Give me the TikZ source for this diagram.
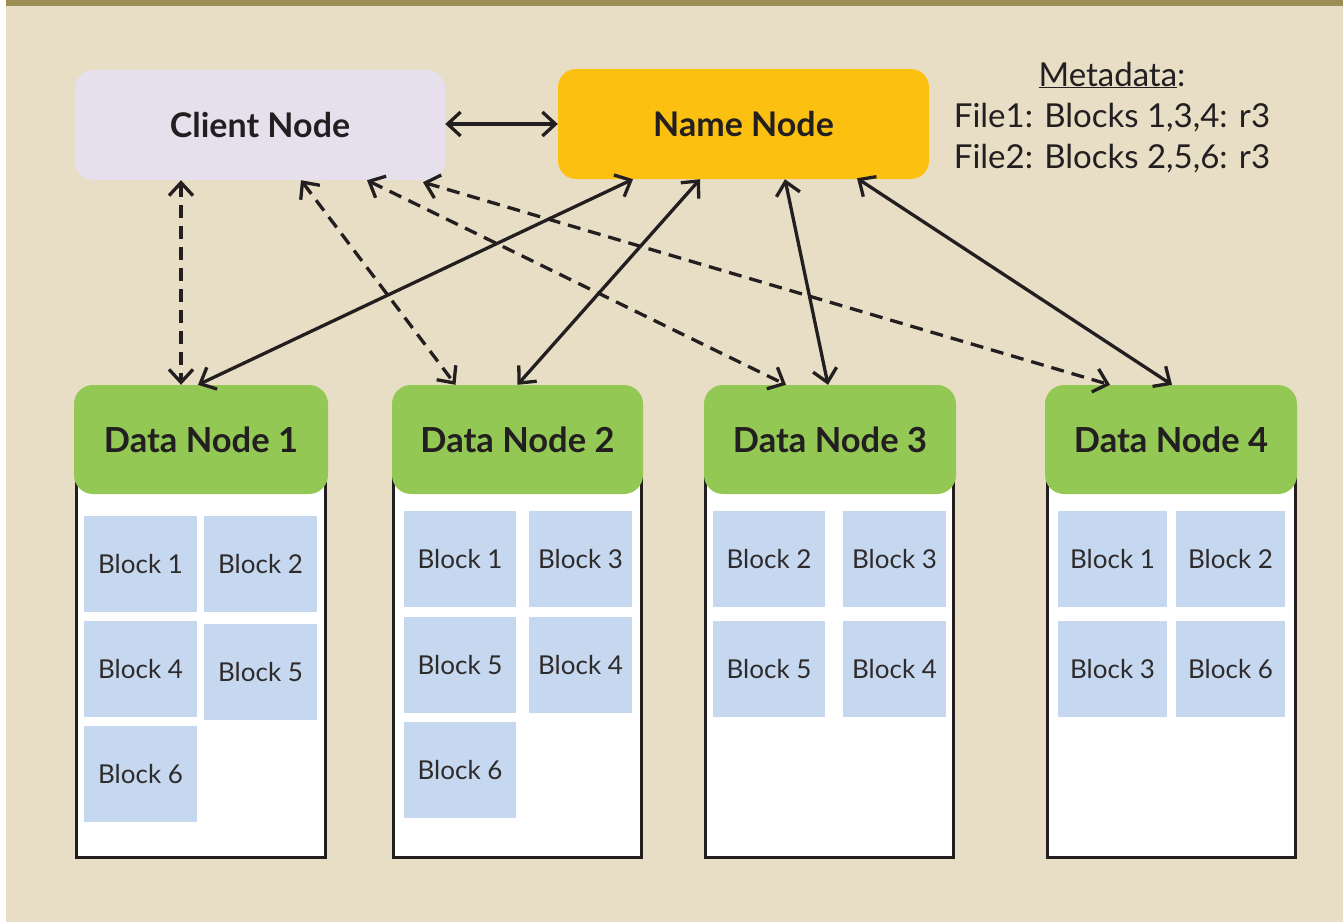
\documentclass[tikz,border=0pt]{standalone}
\usepackage{fontspec}
\setmainfont{Lato}
\usetikzlibrary{arrows.meta}
\definecolor{olivebar}{HTML}{9C8D55}
\definecolor{beige}{HTML}{E8DEC6}
\definecolor{lavender}{HTML}{E5E0EC}
\definecolor{gold}{HTML}{FCC011}
\definecolor{leaf}{HTML}{92C853}
\definecolor{blockblue}{HTML}{C6D8EF}
\definecolor{ink}{HTML}{231F20}
\definecolor{blocktext}{HTML}{2E2B2C}
\tikzset{
  topbox/.style={rounded corners=18pt, inner sep=0pt, minimum width=371pt, minimum height=110pt,
    font=\fontsize{34}{38}\selectfont\bfseries, text=ink},
  header/.style={fill=leaf, rounded corners=19pt, inner sep=0pt, minimum height=109pt,
    font=\fontsize{34.5}{38}\selectfont\bfseries, text=ink},
  databox/.style={draw=ink, line width=3pt, fill=white, inner sep=0pt},
  blockbox/.style={fill=blockblue, inner sep=0pt, minimum height=96pt,
    font=\fontsize{26}{30}\selectfont, text=blocktext},
  metatext/.style={anchor=base, inner sep=0pt, font=\fontsize{33}{38}\selectfont, text=ink},
  link/.style={draw=ink, line width=3.3pt, {Straight Barb[length=13pt,width=24pt]}-{Straight Barb[length=13pt,width=24pt]}},
  dlink/.style={link, dash pattern=on 13pt off 8pt}
}
\begin{document}
\begin{tikzpicture}[x=1pt,y=-1pt]
\useasboundingbox (0,0) rectangle (1343,922);
\fill[white] (0,0) rectangle (1343,922);
\fill[beige] (6,5) rectangle (1343,922);
\fill[olivebar] (6,0) rectangle (1343,5.5);

% data node boxes
\node[databox, minimum width=249pt, minimum height=387.5pt] (box1) at (201,663.75) {};
\node[databox, minimum width=248pt, minimum height=387.5pt] (box2) at (517.5,663.75) {};
\node[databox, minimum width=248pt, minimum height=387.5pt] (box3) at (829.5,663.75) {};
\node[databox, minimum width=248pt, minimum height=387.5pt] (box4) at (1171.5,663.75) {};

% headers
\node[header, minimum width=254pt] (dn1) at (201,439.5) {Data Node 1};
\node[header, minimum width=251pt] (dn2) at (517.5,439.5) {Data Node 2};
\node[header, minimum width=252pt] (dn3) at (830,439.5) {Data Node 3};
\node[header, minimum width=252pt] (dn4) at (1171,439.5) {Data Node 4};

% blocks DN1
\node[blockbox, minimum width=113pt] (a1) at (140.5,564) {Block 1};
\node[blockbox, minimum width=113pt] (a2) at (260.5,564) {Block 2};
\node[blockbox, minimum width=113pt] (a4) at (140.5,669) {Block 4};
\node[blockbox, minimum width=113pt] (a5) at (260.5,672) {Block 5};
\node[blockbox, minimum width=113pt] (a6) at (140.5,774) {Block 6};
% blocks DN2
\node[blockbox, minimum width=112pt] (b1) at (460,559) {Block 1};
\node[blockbox, minimum width=103pt] (b3) at (580.5,559) {Block 3};
\node[blockbox, minimum width=112pt] (b5) at (460,665) {Block 5};
\node[blockbox, minimum width=103pt] (b4) at (580.5,665) {Block 4};
\node[blockbox, minimum width=112pt] (b6) at (460,770) {Block 6};
% blocks DN3
\node[blockbox, minimum width=112pt] (c2) at (769,559) {Block 2};
\node[blockbox, minimum width=103pt] (c3) at (894.5,559) {Block 3};
\node[blockbox, minimum width=112pt] (c5) at (769,669) {Block 5};
\node[blockbox, minimum width=103pt] (c4) at (894.5,669) {Block 4};
% blocks DN4
\node[blockbox, minimum width=109pt] (e1) at (1112.5,559) {Block 1};
\node[blockbox, minimum width=109pt] (e2) at (1230.5,559) {Block 2};
\node[blockbox, minimum width=109pt] (e3) at (1112.5,669) {Block 3};
\node[blockbox, minimum width=109pt] (e6) at (1230.5,669) {Block 6};

% top nodes
\node[topbox, fill=lavender, minimum width=370pt] (client) at (260,125) {Client Node};
\node[topbox, fill=gold] (name) at (743.5,124) {Name Node};

% metadata
\node[metatext] (meta0) at (1112,86) {\underline{Metadata}:};
\node[metatext] (meta1) at (1112,127) {File1: Blocks 1,3,4: r3};
\node[metatext] (meta2) at (1112,168) {File2: Blocks 2,5,6: r3};

% connectors
\draw[link] (client.east |- 0,124) -- (name.west |- 0,124);
\draw[dlink] ([xshift=-79pt]client.south) -- ([xshift=-20pt]dn1.north);
\draw[dlink] ([xshift=41pt]client.south) -- ([xshift=-62pt]dn2.north);
\draw[dlink] ([xshift=107pt]client.south) -- ([xshift=-44pt]dn3.north);
\draw[dlink] ([xshift=163pt,yshift=-2pt]client.south) -- ([xshift=-61pt]dn4.north);
\draw[link] ([xshift=-110.5pt]name.south) -- ([xshift=-3pt]dn1.north);
\draw[link] ([xshift=-43.5pt]name.south) -- (dn2.north);
\draw[link] ([xshift=41.5pt]name.south) -- ([xshift=-2pt]dn3.north);
\draw[link] ([xshift=113.5pt,yshift=1pt]name.south) -- ([xshift=1pt]dn4.north);
\end{tikzpicture}
\end{document}
